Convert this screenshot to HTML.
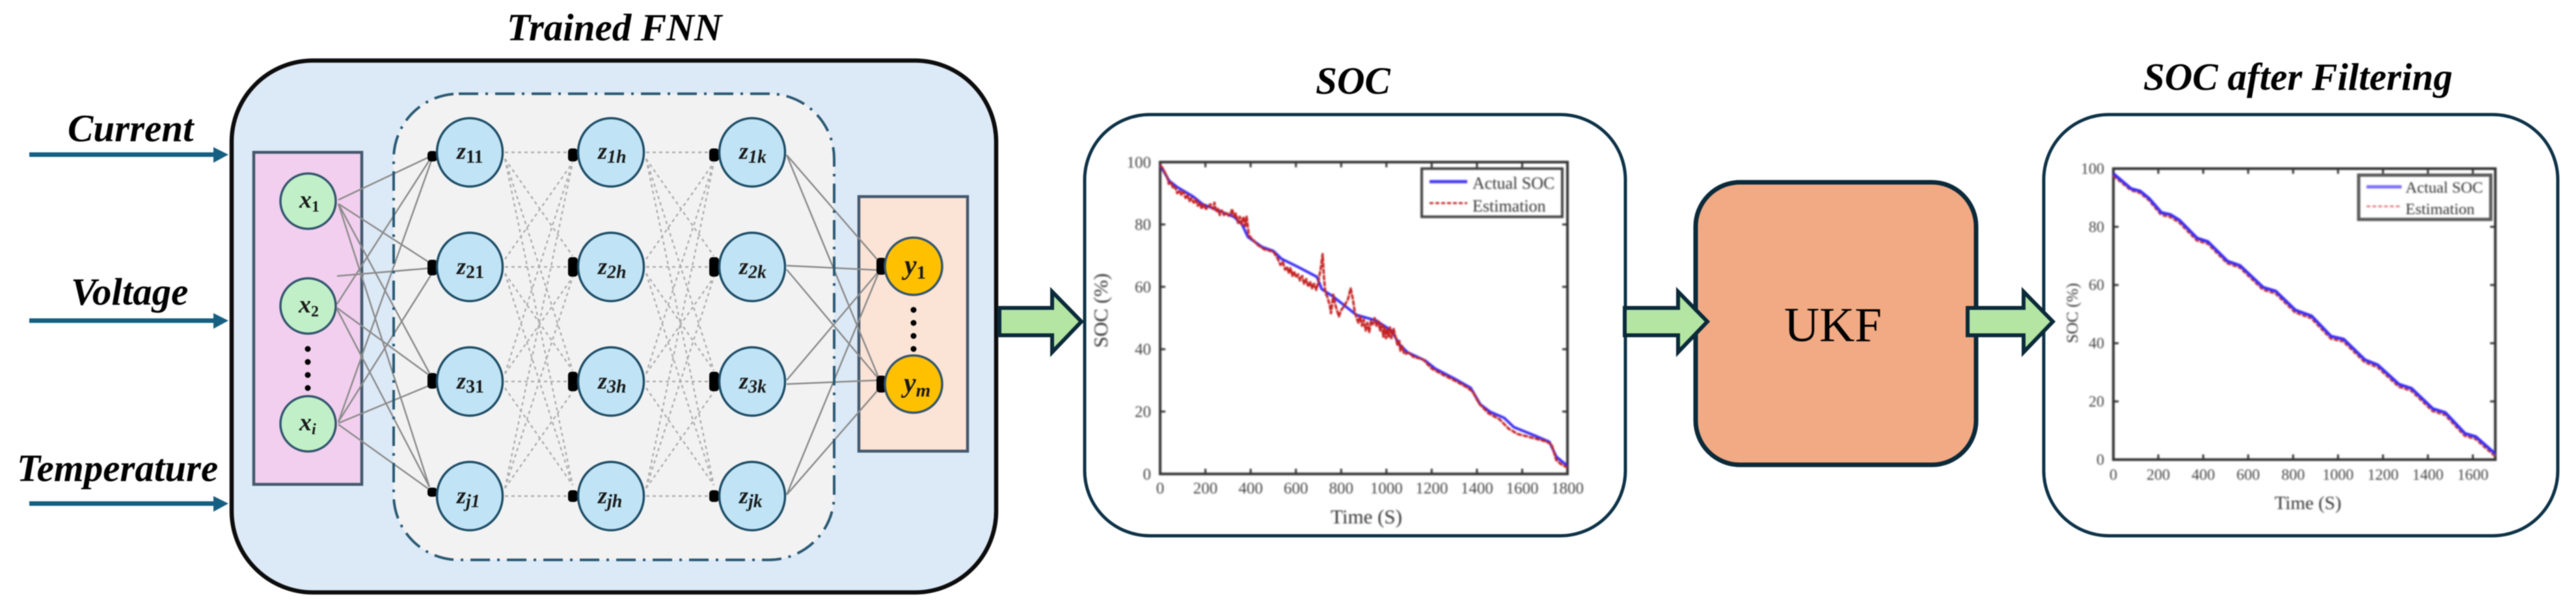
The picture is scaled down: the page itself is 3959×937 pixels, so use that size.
<!DOCTYPE html>
<html lang="en">
<head>
<meta charset="utf-8">
<title>FNN and UKF SOC estimation pipeline</title>
<style>
html,body{margin:0;padding:0;background:#fff;width:3959px;height:937px;overflow:hidden}
svg{display:block}
text{font-family:"Liberation Serif",serif}
.h{font-weight:bold;font-style:italic;font-size:59px;fill:#000}
.m{font-weight:bold;font-style:italic;fill:#1a1a1a}
.soft{filter:blur(.8px)}
.softer{filter:blur(1.2px)}
</style>
</head>
<body>
<svg id="root" xmlns="http://www.w3.org/2000/svg" width="3959" height="937" viewBox="0 0 3959 937">
<g class="soft">
  <text class="h" x="779" y="62">Trained FNN</text>
  <text class="h" x="104" y="217">Current</text>
  <text class="h" x="109" y="468">Voltage</text>
  <text class="h" x="26" y="739">Temperature</text>

  <g fill="#156082" stroke="none">
    <path d="M45 234H328V226L351 237.500L328 250V241H45Z"/>
    <path d="M45 489H328V481L351 492.500L328 505V496H45Z"/>
    <path d="M45 770H328V762L351 773.500L328 786V777H45Z"/>
  </g>

  <rect x="356" y="93" width="1175" height="817" rx="125" ry="125" fill="#dce9f6" stroke="#0d0d0d" stroke-width="6.500"/>
  <rect x="605" y="144" width="677" height="716" rx="100" ry="100" fill="#f2f2f2" stroke="none"/>
  <rect x="390" y="234" width="166" height="510" fill="#f2cfee" stroke="#44596e" stroke-width="4.500"/>
  <rect x="1320" y="302" width="167" height="391" fill="#fbe3d6" stroke="#44596e" stroke-width="4.500"/>
  <g id="edges"></g>
  <rect x="605" y="144" width="677" height="716" rx="100" ry="100" fill="none" stroke="#2b5a74" stroke-width="4" stroke-dasharray="30 11 4 11"/>

  <g fill="#c1f0c8" stroke="#34566f" stroke-width="3.500">
    <circle cx="473.500" cy="309" r="42.500"/>
    <circle cx="473.500" cy="470" r="42.500"/>
    <circle cx="473.500" cy="651" r="42.500"/>
  </g>
  <g fill="#c0e4f5" stroke="#1f4e68" stroke-width="3.500">
    <ellipse cx="722" cy="234" rx="50.500" ry="52.500"/>
    <ellipse cx="722" cy="410" rx="50.500" ry="52.500"/>
    <ellipse cx="722" cy="586" rx="50.500" ry="52.500"/>
    <ellipse cx="722" cy="762" rx="50.500" ry="52.500"/>
    <ellipse cx="939" cy="234" rx="50.500" ry="52.500"/>
    <ellipse cx="939" cy="410" rx="50.500" ry="52.500"/>
    <ellipse cx="939" cy="586" rx="50.500" ry="52.500"/>
    <ellipse cx="939" cy="762" rx="50.500" ry="52.500"/>
    <ellipse cx="1156" cy="234" rx="50.500" ry="52.500"/>
    <ellipse cx="1156" cy="410" rx="50.500" ry="52.500"/>
    <ellipse cx="1156" cy="586" rx="50.500" ry="52.500"/>
    <ellipse cx="1156" cy="762" rx="50.500" ry="52.500"/>
  </g>
  <g fill="#ffc000" stroke="#34566f" stroke-width="3.500">
    <circle cx="1404" cy="409" r="44"/>
    <circle cx="1404" cy="590" r="44"/>
  </g>
  <g fill="#000">
    <circle cx="473" cy="536" r="4.500"/><circle cx="473" cy="556" r="4.500"/><circle cx="473" cy="576" r="4.500"/><circle cx="473" cy="596" r="4.500"/>
  </g>
  <g fill="#000">
    <circle cx="1404" cy="476" r="4.500"/><circle cx="1404" cy="496" r="4.500"/><circle cx="1404" cy="516" r="4.500"/><circle cx="1404" cy="536" r="4.500"/>
  </g>

  <g class="m" font-size="38">
    <text x="460" y="319">x<tspan font-size="24" dy="6" font-style="normal">1</tspan></text>
    <text x="459" y="480">x<tspan font-size="24" dy="6" font-style="normal">2</tspan></text>
    <text x="460" y="661">x<tspan font-size="24" dy="6">i</tspan></text>
  </g>
  <g class="m" font-size="36">
    <text x="702" y="244">z<tspan font-size="28" dy="6" font-style="normal">11</tspan></text>
    <text x="702" y="421">z<tspan font-size="28" dy="6" font-style="normal">21</tspan></text>
    <text x="702" y="597">z<tspan font-size="28" dy="6" font-style="normal">31</tspan></text>
    <text x="702" y="773">z<tspan font-size="28" dy="6">j1</tspan></text>
    <text x="919" y="244">z<tspan font-size="28" dy="6">1h</tspan></text>
    <text x="919" y="421">z<tspan font-size="28" dy="6">2h</tspan></text>
    <text x="919" y="597">z<tspan font-size="28" dy="6">3h</tspan></text>
    <text x="919" y="773">z<tspan font-size="28" dy="6">jh</tspan></text>
    <text x="1136" y="244">z<tspan font-size="28" dy="6">1k</tspan></text>
    <text x="1136" y="421">z<tspan font-size="28" dy="6">2k</tspan></text>
    <text x="1136" y="597">z<tspan font-size="28" dy="6">3k</tspan></text>
    <text x="1136" y="773">z<tspan font-size="28" dy="6">jk</tspan></text>
  </g>
  <g class="m" font-size="42">
    <text x="1390" y="421">y<tspan font-size="29" dy="7" font-style="normal">1</tspan></text>
    <text x="1389" y="602">y<tspan font-size="29" dy="7">m</tspan></text>
  </g>

  <rect x="1667" y="176" width="831" height="647" rx="100" ry="100" fill="#fff" stroke="#0e3348" stroke-width="5"/>
  <rect x="3141" y="176" width="790" height="647" rx="100" ry="100" fill="#fff" stroke="#0e3348" stroke-width="5"/>
  <rect x="2606" y="280" width="431" height="434" rx="68" ry="68" fill="#f2aa84" stroke="#0b2a3a" stroke-width="7"/>
  <text x="2742" y="524" font-size="75" fill="#000">UKF</text>

  <g fill="#b4e5a2" stroke="#0b2a3a" stroke-width="6">
    <path d="M1536 473H1617V448L1662 494L1617 541V515H1536Z"/>
    <path d="M2497 473H2579V448L2624 494L2579 541V515H2497Z"/>
    <path d="M3024 473H3110V448L3155 494L3110 541V515H3024Z"/>
  </g>

  <text class="h" x="2022" y="144">SOC</text>
  <text class="h" x="3294" y="138">SOC after Filtering</text>
</g>
<g id="chart1" class="softer"></g>
<g id="chart2" class="softer"></g>
</svg>
<script>
// ---- chart data ----
const socTicksX = [0,200,400,600,800,1000,1200,1400,1600,1800];
const socTicksY = [0,20,40,60,80,100];
const socActualTime = [0,40,75,145,188,240,327,362,388,450,500,536,606,693,714,762,815,867,954,1023,1058,1093,1172,1215,1302,1372,1415,1459,1520,1563,1659,1720,1751,1800];
const socActualValue = [99,94,92,89,86.5,85,82.4,80,76,72.8,71.5,69,66.5,63.2,59.3,57,54,51,49.2,45.9,41.5,39,36.3,33.8,30.5,27.6,22.3,19.9,18,15,12.2,10.3,5.5,2.6];
const socEstTime = [0,12,22,30,38,48,58,66,76,84,94,102,112,120,130,138,148,156,166,174,184,192,202,212,222,232,240,248,256,264,272,282,292,302,312,318,326,334,344,352,360,368,376,382,392,405,430,460,500,520,532,542,552,560,568,576,584,592,600,610,618,628,636,646,654,664,672,680,690,700,710,718,724,730,738,750,755,765,775,790,800,815,830,842,852,860,868,876,884,892,900,908,916,924,932,940,948,956,964,972,980,986,992,998,1004,1010,1016,1022,1032,1040,1050,1056,1062,1070,1078,1100,1120,1160,1200,1250,1300,1350,1380,1410,1450,1500,1540,1580,1650,1700,1730,1750,1770,1800];
const socEstValue = [99,98,96.5,95.5,93,93.5,91.5,92,90,91,89.5,90.5,88.5,89.5,87.5,88.5,87,88,86,87,85,86.5,85,85.5,86.5,85,87,84,85,83,84.5,83,84,82.8,83.5,85,82.5,83.5,80.5,82.5,80,82.5,79.5,82.5,76.5,75.5,73.5,72,71.3,69,67,68,65.5,66.5,64.5,66,63.5,65,63,64,62,63.5,61,62.5,60,61.5,59.5,61,59,62,66,70.5,63,58,57,54,51.5,57.5,54,50.5,52.5,54,56,59.5,56,52,50,48.5,50.5,47.5,49.5,46,48.5,45.5,49,48,50,47.5,49,46,48,44,47,43.5,46.5,44,47,43.5,46.5,44,41,43,39.5,41,38.5,38.8,37.5,36.8,33.8,31.8,30,28,26.5,22.5,19.5,17.5,14.5,12.8,11.5,10.5,9.5,4.5,3.2,2];

const filteredTicksX = [0,200,400,600,800,1000,1200,1400,1600];
const filteredTicksY = [0,20,40,60,80,100];
const filteredTime = [0,79,119,159,214,254,294,373,421,508,564,667,723,810,882,969,1025,1120,1176,1271,1327,1422,1477,1565,1613,1700];
const filteredActual = [98.300,93.100,92.300,89.800,84.900,84.200,82.300,76.100,74.900,68.200,66.700,59.200,57.900,51.400,49.400,42.400,41.400,34.300,32.600,25.900,24.500,17.500,16.200,9,7.900,2];
const filteredEstimate = [97.700,92.700,91.800,89.300,84.200,83.500,81.600,75.400,74.300,67.600,66.100,58.500,57.200,50.700,48.700,41.700,40.700,33.600,31.900,25.200,23.800,16.800,15.500,8.300,7.200,1.300];

const legendLabels = ['Actual SOC','Estimation'];

// ---- helpers ----
const NS = 'http://www.w3.org/2000/svg';
function mk(tag, attrs, parent){
  const el = document.createElementNS(NS, tag);
  for (const k in attrs) el.setAttribute(k, attrs[k]);
  parent.appendChild(el);
  return el;
}
function toPoints(times, values, sx, sy){
  return times.map(function(t,i){ return sx(t).toFixed(1)+','+sy(values[i]).toFixed(1); }).join(' ');
}
function drawChart(g, c){
  const sx = function(t){ return c.x0 + t/c.xMax*(c.x1-c.x0); };
  const sy = function(v){ return c.y0 - v/100*(c.y0-c.y1); };
  const frame = mk('rect',{x:c.x0,y:c.y1,width:c.x1-c.x0,height:c.y0-c.y1,fill:'#fff',stroke:'#333','stroke-width':4},g);
  
  
  c.ticksX.forEach(function(t){
    [[c.y0,c.y0-8],[c.y1,c.y1+8]].forEach(function(p){
      const tick = mk('line',{x1:sx(t),x2:sx(t),y1:p[0],y2:p[1],stroke:'#333','stroke-width':3},g);
      
      
    });
    const lab = mk('text',{x:sx(t),y:c.tickBase,'text-anchor':'middle','font-size':c.tickSize,fill:'#444'},g);
    lab.textContent = t;
    
    
  });
  c.ticksY.forEach(function(v){
    [[c.x0,c.x0+8],[c.x1,c.x1-8]].forEach(function(p){
      const tick = mk('line',{x1:p[0],x2:p[1],y1:sy(v),y2:sy(v),stroke:'#333','stroke-width':3},g);
      
      
    });
    const lab = mk('text',{x:c.x0-14,y:sy(v)+c.tickSize*0.33,'text-anchor':'end','font-size':c.tickSize,fill:'#444'},g);
    lab.textContent = v;
    
    
  });
  const drawActual = function(){
    const line = mk('polyline',{points:toPoints(c.actT,c.actV,sx,sy),fill:'none',stroke:'#3a2cf5','stroke-width':c.actWidth,'stroke-linejoin':'round'},g);
    
    
  };
  const drawEstimate = function(){
    const line = mk('polyline',{points:toPoints(c.estT,c.estV,sx,sy),fill:'none',stroke:c.estColor,'stroke-width':c.estWidth,'stroke-dasharray':c.estDash,'stroke-linejoin':'round'},g);
    
    
  };
  if (c.estFirst) { drawEstimate(); drawActual(); } else { drawActual(); drawEstimate(); }
  const xt = mk('text',{x:c.xTitleX,y:c.xTitleY,'text-anchor':'middle','font-size':c.titleSizeX,fill:'#333'},g);
  xt.textContent = 'Time (S)';
  
  
  const yt = mk('text',{transform:'translate('+c.yTitleX+' '+c.yTitleY+') rotate(-90)','text-anchor':'middle','font-size':c.titleSizeY,fill:'#333'},g);
  yt.textContent = 'SOC (%)';
  
  
  const L = c.legend;
  const box = mk('rect',{x:L.x,y:L.y,width:L.w,height:L.h,fill:'#fff',stroke:L.stroke,'stroke-width':L.sw},g);
  
  
  legendLabels.forEach(function(label,i){
    const s = mk('line',{x1:L.lx0,x2:L.lx1,y1:L.ly[i],y2:L.ly[i],stroke:i?L.estColor:L.actColor,'stroke-width':i?3:5},g);
    if (i) s.setAttribute('stroke-dasharray','6 3');
    
    
    const t = mk('text',{x:L.tx,y:L.ty[i],'font-size':L.size,fill:'#333'},g);
    t.textContent = label;
    
    
  });
}

drawChart(document.getElementById('chart1'),{
  id:'soc',x0:1783,x1:2409,y0:728,y1:249,xMax:1800,
  ticksX:socTicksX,ticksY:socTicksY,actT:socActualTime,actV:socActualValue,estT:socEstTime,estV:socEstValue,
  actWidth:4,estColor:'#c42020',estWidth:3.5,estDash:'8 1.500',estFirst:false,
  tickBase:758,tickSize:25,xTitleX:2100,xTitleY:804,titleSizeX:31,titleSizeY:31,yTitleX:1702,yTitleY:477,
  legend:{x:2185,y:259,w:216,h:74,stroke:'#444',sw:4,lx0:2197,lx1:2255,ly:[279,312],tx:2263,ty:[290,325],size:26,actColor:'#4a3cf5',estColor:'#c42a2a'}
});
drawChart(document.getElementById('chart2'),{
  id:'filtered-soc',x0:3248,x1:3835,y0:706,y1:259,xMax:1700,
  ticksX:filteredTicksX,ticksY:filteredTicksY,actT:filteredTime,actV:filteredActual,estT:filteredTime,estV:filteredEstimate,
  actWidth:4.5,estColor:'#c93a3a',estWidth:5,estDash:'7 2',estFirst:true,
  tickBase:737,tickSize:24,xTitleX:3547,xTitleY:782,titleSizeX:29,titleSizeY:25,yTitleX:3193,yTitleY:481,
  legend:{x:3625,y:269,w:203,h:68,stroke:'#5a5a5a',sw:5,lx0:3637,lx1:3691,ly:[287,317],tx:3697,ty:[296,329],size:24.500,actColor:'#7f6ff5',estColor:'#e28a8a'}
});

// ---- network connections (schematic, not chart data) ----
const edges = document.getElementById('edges');
const zRows = [234,410,586,762];
const inputEdges = [
  [520,307,662,240],[520,313,658,402],[520,313,660,573],[520,313,660,748],
  [518,467,662,243],[518,424,660,412],[518,473,658,575],[518,475,660,748],
  [520,648,664,244],[520,648,662,423],[520,650,658,593],[520,652,660,752]
];
const heads = [
  [657,240,16],[657,411,24],[657,585,24],[657,756,14],
  [873,238,20],[873,410,30],[873,586,30],[873,762,18],
  [1090,238,20],[1090,410,30],[1090,586,30],[1090,762,18],
  [1347,409,26],[1347,590,26]
];
function edge(x1,y1,x2,y2,dashed){
  const e = mk('line',{x1:x1,y1:y1,x2:x2,y2:y2,stroke:dashed?'#b0b0b0':'#8c8c8c','stroke-width':dashed?2.5:2.5},edges);
  if (dashed) e.setAttribute('stroke-dasharray','5 5');
  
  
}
function head(x,y,h){
  const p = mk('rect',{x:x,y:y-h/2,width:15,height:h,rx:5,ry:5,fill:'#000'},edges);
  
  
}
inputEdges.forEach(function(e){ edge(e[0],e[1],e[2],e[3],false); });
[[776,880],[993,1097]].forEach(function(col){
  zRows.forEach(function(a){
    zRows.forEach(function(b){
      const start = a===b ? 0 : (a<b ? 10 : -12);
      const end = a===b ? 0 : (a<b ? -17 : 16);
      edge(col[0],a+start,col[1],b+end,true);
    });
  });
});
zRows.forEach(function(a){
  [409,590].forEach(function(b){ edge(1209,a+(a<b?4:-2),1352,b+(a<b?-6:6),false); });
});
heads.forEach(function(h){ head(h[0],h[1],h[2]); });
</script>
</body>
</html>
